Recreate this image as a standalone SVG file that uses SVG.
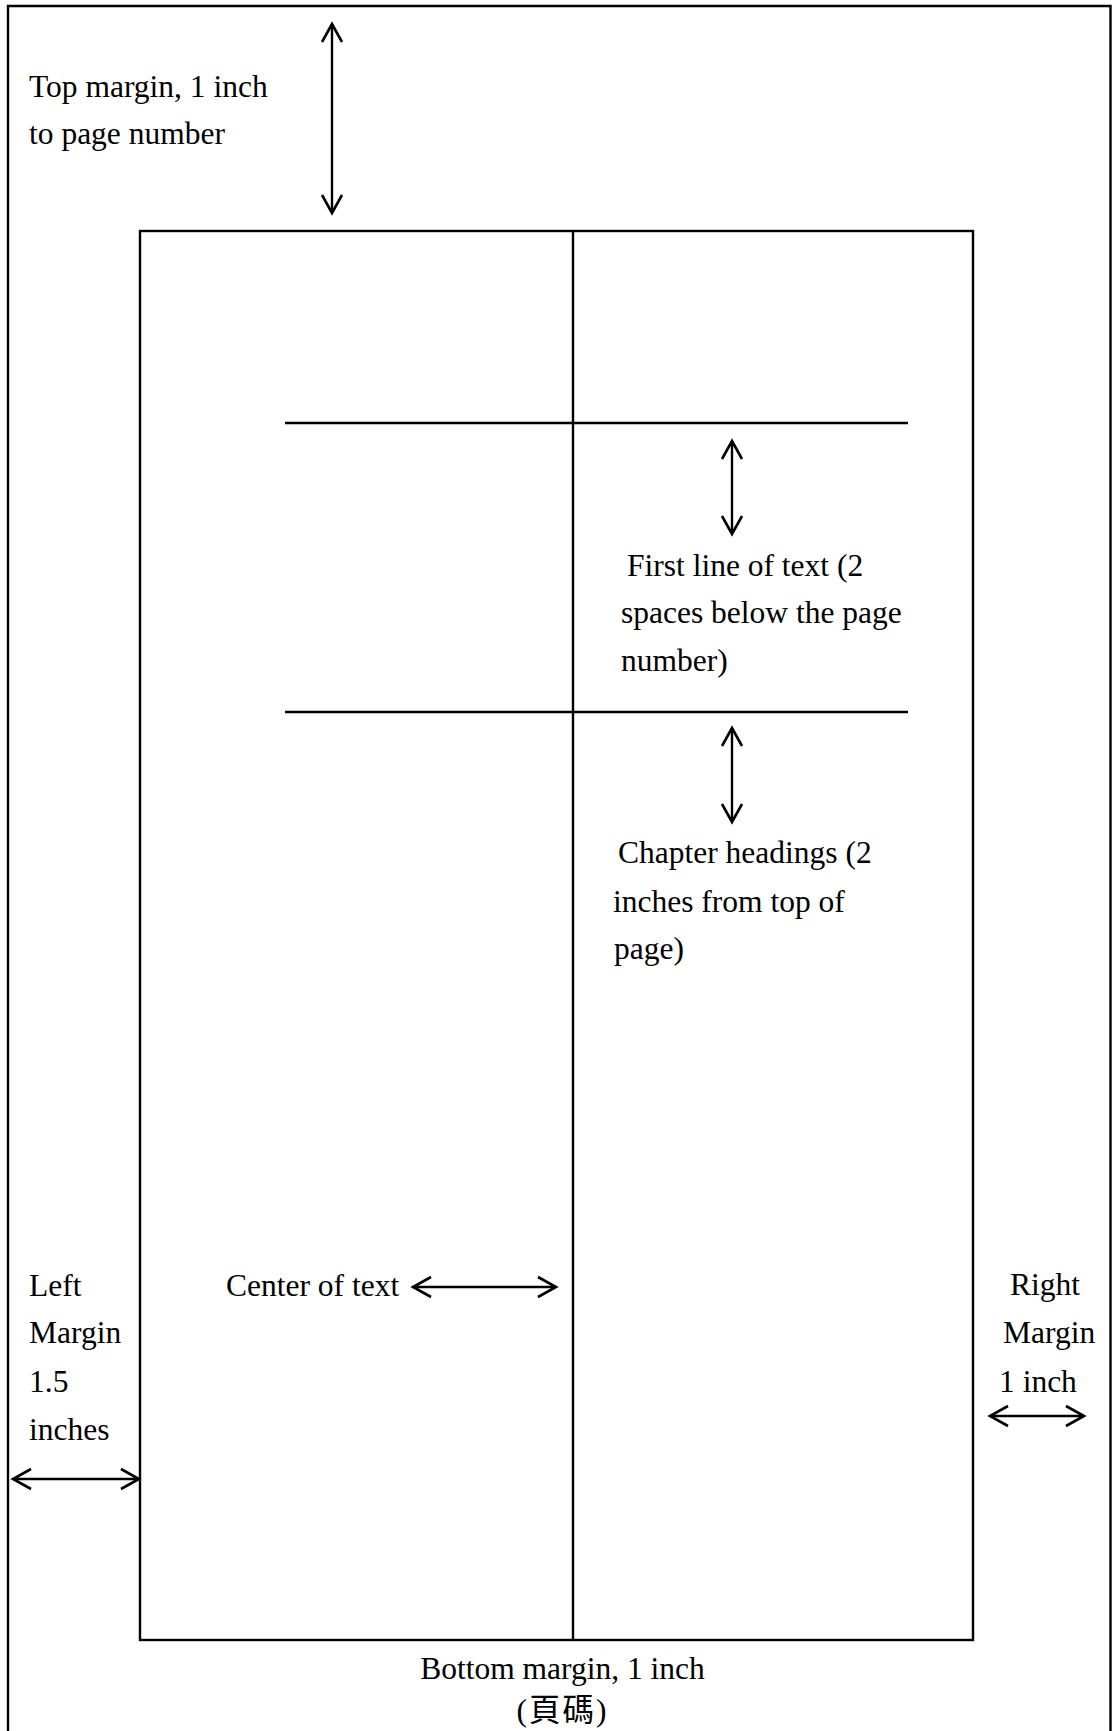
<svg xmlns="http://www.w3.org/2000/svg" width="1112" height="1731" viewBox="0 0 1112 1731">
<style>
.ln{fill:none;stroke:#000;stroke-width:2.4}
.t{font-family:"Liberation Serif","Times New Roman",serif;font-size:31.5px;fill:#000}
.cjk{font-family:"Liberation Serif","Noto Sans CJK TC",serif;font-size:31.5px;fill:#000}
</style>
<defs>
<marker id="ah" markerUnits="userSpaceOnUse" orient="auto-start-reverse" overflow="visible" refX="0" refY="0" markerWidth="1" markerHeight="1">
<path d="M-18,-10 L0,0 L-18,10" fill="none" stroke="#000" stroke-width="2.6"/>
</marker>
</defs>
<rect width="1112" height="1731" fill="#fff"/>
<g id="page-frame">
<path class="ln" d="M8,1731 V6 H1110.5 V1731"/>
</g>
<g id="text-area">
<rect class="ln" x="140" y="231" width="833" height="1409"/>
<line class="ln" x1="573" y1="231" x2="573" y2="1640" stroke-width="2"/>
<line class="ln" x1="285" y1="423" x2="908" y2="423"/>
<line class="ln" x1="285" y1="712" x2="908" y2="712"/>
</g>
<g id="connectors">
<line class="ln" x1="332" y1="24" x2="332" y2="213" marker-start="url(#ah)" marker-end="url(#ah)"/>
<line class="ln" x1="732" y1="441" x2="732" y2="534" marker-start="url(#ah)" marker-end="url(#ah)"/>
<line class="ln" x1="732" y1="728" x2="732" y2="822" marker-start="url(#ah)" marker-end="url(#ah)"/>
<line class="ln" x1="13" y1="1479" x2="139" y2="1479" marker-start="url(#ah)" marker-end="url(#ah)"/>
<line class="ln" x1="413" y1="1287" x2="556" y2="1287" marker-start="url(#ah)" marker-end="url(#ah)"/>
<line class="ln" x1="990" y1="1416" x2="1084" y2="1416" marker-start="url(#ah)" marker-end="url(#ah)"/>
</g>
<g id="top-margin-label">
<text class="t" x="29" y="97">Top margin, 1 inch</text>
<text class="t" x="29" y="144">to page number</text>
</g>
<g id="first-line-label">
<text class="t" x="627" y="576">First line of text (2</text>
<text class="t" x="621" y="623">spaces below the page</text>
<text class="t" x="621" y="671">number)</text>
</g>
<g id="chapter-headings-label">
<text class="t" x="618" y="863">Chapter headings (2</text>
<text class="t" x="613" y="912">inches from top of</text>
<text class="t" x="614" y="959">page)</text>
</g>
<g id="left-margin-label">
<text class="t" x="29" y="1296">Left</text>
<text class="t" x="29" y="1343">Margin</text>
<text class="t" x="29" y="1392">1.5</text>
<text class="t" x="29" y="1440">inches</text>
</g>
<g id="center-label">
<text class="t" x="226" y="1296">Center of text</text>
</g>
<g id="right-margin-label">
<text class="t" x="1010" y="1295">Right</text>
<text class="t" x="1003" y="1343">Margin</text>
<text class="t" x="999" y="1392">1 inch</text>
</g>
<g id="bottom-margin-label">
<text class="t" x="562.5" y="1679" text-anchor="middle">Bottom margin, 1 inch</text>
<text class="cjk" x="562.5" y="1721" text-anchor="middle" letter-spacing="2">(頁碼)</text>
</g>
</svg>
